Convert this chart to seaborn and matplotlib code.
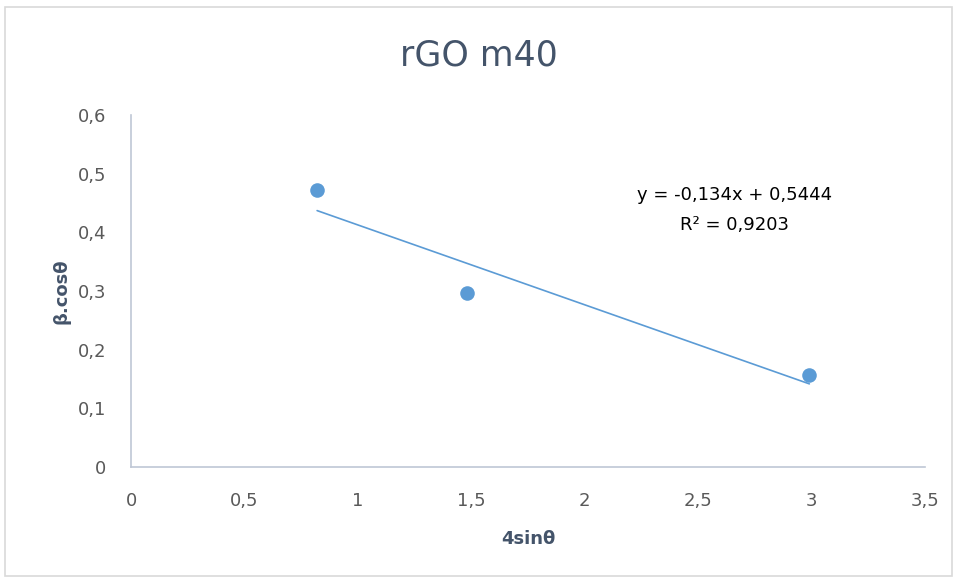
import numpy as np
import pandas as pd
import matplotlib
matplotlib.use("Agg")
import matplotlib.pyplot as plt
import seaborn as sns
from matplotlib.ticker import FuncFormatter, MultipleLocator
from matplotlib.patches import Rectangle

# data
x_vals = [0.82, 1.48, 2.99]
y_vals = [0.472, 0.297, 0.157]
eq_text = "y = -0,134x + 0,5444"
r2_text = "R² = 0,9203"

df = pd.DataFrame({"4sinθ": x_vals, "β.cosθ": y_vals})

sns.set_style("white")
plt.rcParams['font.family'] = ['DejaVu Sans']

text_col = "#44546A"
blue = "#5B9BD5"

fig = plt.figure(figsize=(9.57, 5.79), dpi=100)
ax = fig.add_axes([0.137, 0.1934, 0.8296, 0.608])

sns.regplot(data=df, x="4sinθ", y="β.cosθ", ax=ax, ci=None,
            scatter_kws={"s": 110, "color": blue, "alpha": 1, "linewidths": 0},
            line_kws={"color": blue, "linewidth": 1.2})

ax.set_xlim(0, 3.5)
ax.set_ylim(0, 0.6)
ax.xaxis.set_major_locator(MultipleLocator(0.5))
ax.yaxis.set_major_locator(MultipleLocator(0.1))
comma = FuncFormatter(lambda v, p: ("%g" % round(v, 2)).replace(".", ","))
ax.xaxis.set_major_formatter(comma)
ax.yaxis.set_major_formatter(comma)
ax.tick_params(axis="both", length=0, labelsize=13, labelcolor="#595959", pad=18)

for s in ["top", "right"]:
    ax.spines[s].set_visible(False)
for s in ["left", "bottom"]:
    ax.spines[s].set_color("#BFC7D5")
    ax.spines[s].set_linewidth(1.2)

ax.set_xlabel("4sinθ", fontsize=13, fontweight="bold", color=text_col)
ax.set_ylabel("β.cosθ", fontsize=13, fontweight="bold", color=text_col)
ax.yaxis.set_label_coords(-0.076, 0.5)
ax.xaxis.set_label_coords(0.5, -0.178)

fig.text(0.5, 0.905, "rGO m40", ha="center", va="center", fontsize=25, color=text_col)

ax.text(2.66, 0.464, eq_text, ha="center", va="center", fontsize=13, color="black")
ax.text(2.66, 0.413, r2_text, ha="center", va="center", fontsize=13, color="black")

fig.patches.append(Rectangle((0.005, 0.006), 0.99, 0.982, transform=fig.transFigure,
                             fill=False, edgecolor="#D9D9D9", linewidth=1.2))

fig.savefig("out.png", dpi=100)
